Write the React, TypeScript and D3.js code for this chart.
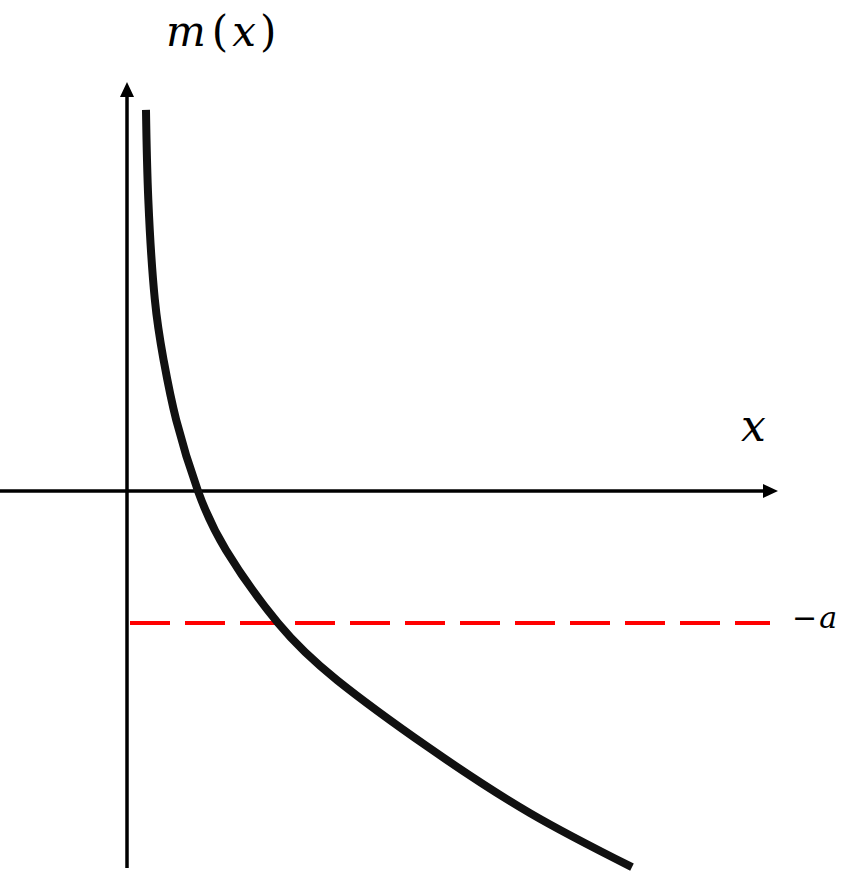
import * as d3 from "d3";

// curve m(x) (axis units)
const curveX = [0.292, 0.328, 0.428, 0.563, 0.757, 1.092, 1.523, 2.323, 3.231, 4.631, 6.2, 7.769];
const curveY = [5.862, 4.477, 2.946, 2.015, 1.092, 0, -0.908, -2.031, -2.908, -3.938, -4.954, -5.785];
const levelA = -2.03; // the dashed line at -a

const W = 850;
const H = 874;

export default function App() {
  const x = d3.scaleLinear().domain([0, 10]).range([127, 777]);
  const y = d3.scaleLinear().domain([0, 6.29]).range([491, 82]);

  const pts = curveX.map((v, i) => [x(v), y(curveY[i])] as [number, number]);
  const line = d3.line().curve(d3.curveNatural)(pts)!;

  const x0 = x(0);
  const y0 = y(0);
  const yTop = y(6.29);
  const xEnd = x(10) + 1;
  const yBottom = 868;
  const head = 15;

  return (
    <svg
      width={W}
      height={H}
      style={{ position: "absolute", left: 0, top: 0, background: "#fff" }}
    >
      {/* axes */}
      <line x1={x0} x2={x0} y1={yBottom} y2={yTop + head - 2} stroke="#000" strokeWidth={3.5} />
      <path d={`M${x0},${yTop} L${x0 - 7},${yTop + head} L${x0 + 7},${yTop + head} Z`} fill="#000" />
      <line x1={0} x2={xEnd - head + 2} y1={y0} y2={y0} stroke="#000" strokeWidth={3.5} />
      <path d={`M${xEnd},${y0} L${xEnd - head},${y0 - 7} L${xEnd - head},${y0 + 7} Z`} fill="#000" />

      {/* -a line */}
      <line
        x1={x0 + 3}
        x2={770}
        y1={y(levelA)}
        y2={y(levelA)}
        stroke="#ff0000"
        strokeWidth={4}
        strokeDasharray="40 15"
      />

      {/* curve */}
      <path d={line} fill="none" stroke="#111" strokeWidth={8} />

      {/* labels */}
      <text x={166} y={46} fontFamily="DejaVu Serif" fontSize={42} fill="#000">
        <tspan fontStyle="italic">m</tspan>
        <tspan dx={6}>(</tspan>
        <tspan dx={4} fontStyle="italic">x</tspan>
        <tspan dx={4}>)</tspan>
      </text>
      <text x={741} y={441} fontFamily="DejaVu Serif" fontStyle="italic" fontSize={44} fill="#000">
        x
      </text>
      <text x={792} y={628} fontFamily="DejaVu Serif" fontSize={30} fill="#000">
        −<tspan dx={2} fontStyle="italic">a</tspan>
      </text>
    </svg>
  );
}
